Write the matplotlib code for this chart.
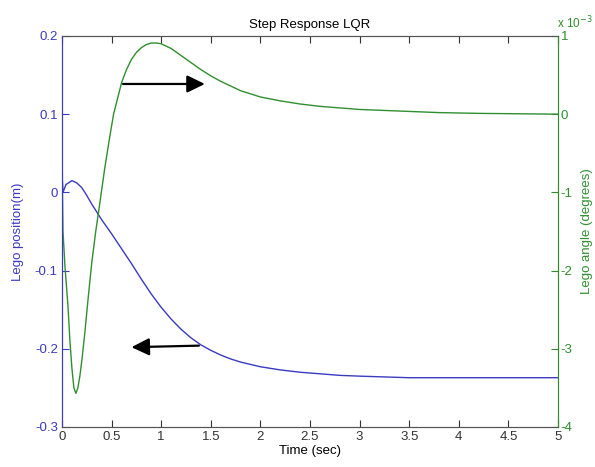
import matplotlib
matplotlib.use('Agg')
import matplotlib.pyplot as plt

# blue curve: lego position (m)
t_pos = [0, 0.01, 0.04, 0.1, 0.15, 0.2, 0.25, 0.3, 0.35, 0.4, 0.5, 0.6, 0.7, 0.8, 0.9, 1.0,
         1.1, 1.2, 1.3, 1.4, 1.5, 1.6, 1.7, 1.8, 1.9, 2.0, 2.2, 2.4, 2.6, 2.8, 3.0, 3.5, 4.0, 5.0]
position = [0.023, 0.0, 0.010, 0.015, 0.012, 0.006, -0.004, -0.015, -0.025, -0.035, -0.053,
            -0.072, -0.091, -0.111, -0.130, -0.147, -0.162, -0.175, -0.186, -0.195, -0.202,
            -0.208, -0.213, -0.217, -0.220, -0.223, -0.227, -0.230, -0.232, -0.234, -0.235,
            -0.237, -0.237, -0.237]

# green curve: lego angle (x 1e-3 degrees)
t_ang = [0, 0.005, 0.01, 0.03, 0.06, 0.08, 0.1, 0.12, 0.14, 0.16, 0.18, 0.2, 0.23, 0.26,
         0.3, 0.34, 0.38, 0.43, 0.48, 0.52, 0.56, 0.6, 0.65, 0.7, 0.75, 0.8, 0.85, 0.9,
         0.95, 1.0, 1.1, 1.2, 1.3, 1.4, 1.5, 1.6, 1.7, 1.8, 1.9, 2.0, 2.2, 2.4, 2.6, 2.8,
         3.0, 3.4, 3.8, 4.2, 5.0]
angle_e3 = [-0.2, -1.0, -1.5, -1.95, -2.45, -2.9, -3.25, -3.5, -3.57, -3.5, -3.35, -3.15,
            -2.8, -2.4, -1.9, -1.5, -1.15, -0.7, -0.3, 0.0, 0.2, 0.4, 0.57, 0.7, 0.79, 0.85,
            0.89, 0.91, 0.91, 0.90, 0.84, 0.75, 0.66, 0.57, 0.49, 0.42, 0.36, 0.30, 0.26,
            0.22, 0.17, 0.13, 0.10, 0.08, 0.06, 0.04, 0.02, 0.01, 0.0]

x_ticks = [0, 0.5, 1, 1.5, 2, 2.5, 3, 3.5, 4, 4.5, 5]
x_labels = ['0', '0.5', '1', '1.5', '2', '2.5', '3', '3.5', '4', '4.5', '5']
left_ticks = [-0.3, -0.2, -0.1, 0, 0.1, 0.2]
left_labels = ['-0.3', '-0.2', '-0.1', '0', '0.1', '0.2']
right_ticks = [-4, -3, -2, -1, 0, 1]

BLUE = '#3a3ac4'
GREEN = '#2f8f2f'
FS = 9.5

plt.rcParams['font.family'] = ['Liberation Sans', 'DejaVu Sans']

fig = plt.figure(figsize=(5.95, 4.67), dpi=100)
ax = fig.add_axes([0.1042, 0.0857, 0.8336, 0.8373])
ax2 = ax.twinx()

ax.plot(t_pos, position, color=BLUE, lw=1)
ax2.plot(t_ang, angle_e3, color=GREEN, lw=1)

ax.set_xlim(0, 5)
ax.set_ylim(-0.3, 0.2)
ax2.set_ylim(-4, 1)

ax.set_xticks(x_ticks)
ax.set_xticklabels(x_labels, fontsize=FS)
ax.set_yticks(left_ticks)
ax.set_yticklabels(left_labels, fontsize=FS, color=BLUE)
ax2.set_yticks(right_ticks)
ax2.set_yticklabels([str(v) for v in right_ticks], fontsize=FS, color=GREEN)

ax.tick_params(axis='x', direction='in', top=True, length=5, pad=3, colors='#333333')
ax.tick_params(axis='y', direction='in', length=5, pad=3, colors=BLUE)
ax2.tick_params(axis='y', direction='in', length=5, pad=2, colors=GREEN)

for a in (ax, ax2):
    a.spines['top'].set_color('#555555')
    a.spines['bottom'].set_color('#555555')
    a.spines['left'].set_color(BLUE)
    a.spines['right'].set_color(GREEN)

ax.set_xlabel('Time (sec)', fontsize=FS, labelpad=1)
ax.set_ylabel('Lego position(m)', fontsize=FS, color=BLUE, labelpad=8)
ax2.set_ylabel('Lego angle (degrees)', fontsize=FS, color=GREEN, labelpad=6)
ax.set_title('Step Response LQR', fontsize=FS, pad=6)
ax2.text(0.998, 1.012, 'x 10$^{-3}$', transform=ax2.transAxes, fontsize=8.5,
         color=GREEN, ha='left', va='bottom')

arrow = dict(arrowstyle='-|>,head_length=0.45,head_width=0.22', mutation_scale=24,
             color='black', lw=1.6, shrinkA=0, shrinkB=0)
ax.annotate('', xy=(1.44, 0.1386), xytext=(0.615, 0.1386), arrowprops=arrow)
ax.annotate('', xy=(0.70, -0.198), xytext=(1.38, -0.196), arrowprops=arrow)

fig.savefig('out.png', dpi=100)
